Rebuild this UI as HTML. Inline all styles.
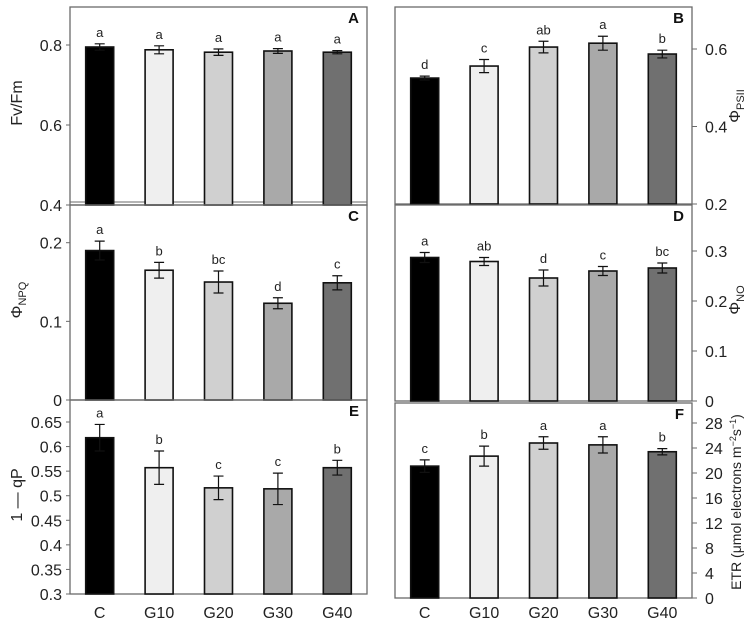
<!DOCTYPE html>
<html><head><meta charset="utf-8"><style>
body{margin:0;background:#fff;}
svg{display:block;font-family:"Liberation Sans",Arial,sans-serif;}
</style></head><body>
<svg id="chart" width="749" height="644" viewBox="0 0 749 644" xmlns="http://www.w3.org/2000/svg"></svg>
<script>
const categories = ["C","G10","G20","G30","G40"];
const fills = ["#000000","#efefef","#d0d0d0","#a9a9a9","#707070"];
const valsA = [0.795,0.788,0.782,0.785,0.782];
const errA = [0.008,0.010,0.008,0.006,0.004];
const lettersA = ["a","a","a","a","a"];
const valsB = [0.525,0.556,0.605,0.615,0.587];
const errB = [0.005,0.017,0.015,0.018,0.010];
const lettersB = ["d","c","ab","a","b"];
const valsC = [0.190,0.165,0.150,0.123,0.149];
const errC = [0.012,0.010,0.014,0.007,0.009];
const lettersC = ["a","b","bc","d","c"];
const valsD = [0.287,0.279,0.246,0.260,0.266];
const errD = [0.010,0.008,0.016,0.009,0.010];
const lettersD = ["a","ab","d","c","bc"];
const valsE = [0.618,0.557,0.516,0.514,0.557];
const errE = [0.027,0.034,0.024,0.032,0.015];
const lettersE = ["a","b","c","c","b"];
const valsF = [21.1,22.7,24.8,24.5,23.4];
const errF = [1.0,1.6,1.0,1.3,0.5];
const lettersF = ["c","b","a","a","b"];
const ticksA = [0.4,0.6,0.8];
const ticksB = [0.2,0.4,0.6];
const ticksC = [0,0.1,0.2];
const ticksD = [0,0.1,0.2,0.3];
const ticksE = [0.3,0.35,0.4,0.45,0.5,0.55,0.6,0.65];
const ticksF = [0,4,8,12,16,20,24,28];

const svg = document.getElementById('chart');
const NS = "http://www.w3.org/2000/svg";
function el(tag, attrs, parent){const e=document.createElementNS(NS,tag);for(const k in attrs)e.setAttribute(k,attrs[k]);(parent||svg).appendChild(e);return e;}

const panels = [
 {id:"a",x0:70,x1:367,yTop:7,yBot:205,vMin:0.4,vMax:0.8,pMax:45,vals:valsA,err:errA,letters:lettersA,ticks:ticksA,side:"left",fmt:v=>v.toFixed(1),label:"A"},
 {id:"b",x0:395,x1:692,yTop:7,yBot:204,vMin:0.2,vMax:0.6,pMax:49,vals:valsB,err:errB,letters:lettersB,ticks:ticksB,side:"right",fmt:v=>v.toFixed(1),label:"B"},
 {id:"c",x0:70,x1:367,yTop:205,yBot:400,vMin:0,vMax:0.2,pMax:242.7,vals:valsC,err:errC,letters:lettersC,ticks:ticksC,side:"left",fmt:v=>v===0?"0":v.toFixed(1),label:"C"},
 {id:"d",x0:395,x1:692,yTop:205,yBot:401,vMin:0,vMax:0.3,pMax:251,vals:valsD,err:errD,letters:lettersD,ticks:ticksD,side:"right",fmt:v=>v===0?"0":v.toFixed(1),label:"D"},
 {id:"e",x0:70,x1:367,yTop:400,yBot:594,vMin:0.3,vMax:0.65,pMax:422,vals:valsE,err:errE,letters:lettersE,ticks:ticksE,side:"left",fmt:v=>String(v),label:"E"},
 {id:"f",x0:395,x1:692,yTop:403,yBot:598,vMin:0,vMax:28,pMax:423,vals:valsF,err:errF,letters:lettersF,ticks:ticksF,side:"right",fmt:v=>String(v),label:"F"}
];

panels.forEach(p=>{
  const g = el('g',{});
  
  
  const y = v => p.yBot - (v-p.vMin)/(p.vMax-p.vMin)*(p.yBot-p.pMax);
  const band = (p.x1-p.x0)/categories.length;
  const cx = i => p.x0 + band*(i+0.5);
  const bw = 28;
  // frame
  const fr = el('rect',{x:p.x0,y:p.yTop,width:p.x1-p.x0,height:p.yBot-p.yTop,fill:"none",stroke:"#6a6a6a","stroke-width":1.3},g);
  
  
  if(p.id==="a"){ el('line',{x1:p.x0,x2:p.x1,y1:202,y2:202,stroke:"#6a6a6a","stroke-width":1},g); }
  // bars
  p.vals.forEach((v,i)=>{
    const b = el('rect',{x:cx(i)-bw/2,y:y(v),width:bw,height:p.yBot-y(v),fill:fills[i],stroke:"#111","stroke-width":1.6},g);
    
    
    const hi=y(v+p.err[i]), lo=y(v-p.err[i]);
    const eb = el('path',{d:`M${cx(i)},${hi}V${lo}M${cx(i)-5},${hi}H${cx(i)+5}M${cx(i)-5},${lo}H${cx(i)+5}`,stroke:"#111","stroke-width":1.2,fill:"none"},g);
    
    
    const t = el('text',{x:cx(i),y:hi-7,"text-anchor":"middle","font-size":13,fill:"#222"},g);
    t.textContent = p.letters[i];
    
    
  });
  // ticks
  p.ticks.forEach(tv=>{
    const ty=y(tv);
    if(p.side==="left"){
      el('line',{x1:p.x0-4,x2:p.x0,y1:ty,y2:ty,stroke:"#6a6a6a","stroke-width":1},g);
      const t=el('text',{x:p.x0-8,y:ty+6,"text-anchor":"end","font-size":16,fill:"#222"},g);
      t.textContent=p.fmt(tv);
      
      
    } else {
      el('line',{x1:p.x1,x2:p.x1+5,y1:ty,y2:ty,stroke:"#6a6a6a","stroke-width":1},g);
      const t=el('text',{x:p.x1+13,y:ty+6,"text-anchor":"start","font-size":16,fill:"#222"},g);
      t.textContent=p.fmt(tv);
      
      
    }
  });
  const L = el('text',{x:p.x1-8,y:p.yTop+16,"text-anchor":"end","font-size":15,"font-weight":"bold",fill:"#111"},g);
  L.textContent=p.label;
  
  
  if(p.id==="e"||p.id==="f"){
    categories.forEach((c,i)=>{
      const t=el('text',{x:cx(i),y:618,"text-anchor":"middle","font-size":16,fill:"#222"},g);
      t.textContent=c;
      
      
    });
  }
});

function title(x,yy,html,name,size){
  const t=el('text',{x:x,y:yy,"text-anchor":"middle","font-size":size||16,fill:"#222",transform:`rotate(-90 ${x} ${yy})`});
  t.innerHTML=html;
  
  
}
title(22,103,'Fv/Fm','y-axis-title-fvfm');
title(22,300,'Φ<tspan font-size="11" dy="4">NPQ</tspan>','y-axis-title-phinpq');
title(22,495,'1 — qP','y-axis-title-1-qp');
title(740,106,'Φ<tspan font-size="11" dy="4">PSII</tspan>','y-axis-title-phipsii');
title(740,300,'Φ<tspan font-size="11" dy="4">NO</tspan>','y-axis-title-phino');
title(741,502,'ETR (μmol electrons m<tspan font-size="9" dy="-5">−2</tspan><tspan dy="5">s</tspan><tspan font-size="9" dy="-5">−1</tspan><tspan dy="5">)</tspan>','y-axis-title-etr',14);
</script>
</body></html>
